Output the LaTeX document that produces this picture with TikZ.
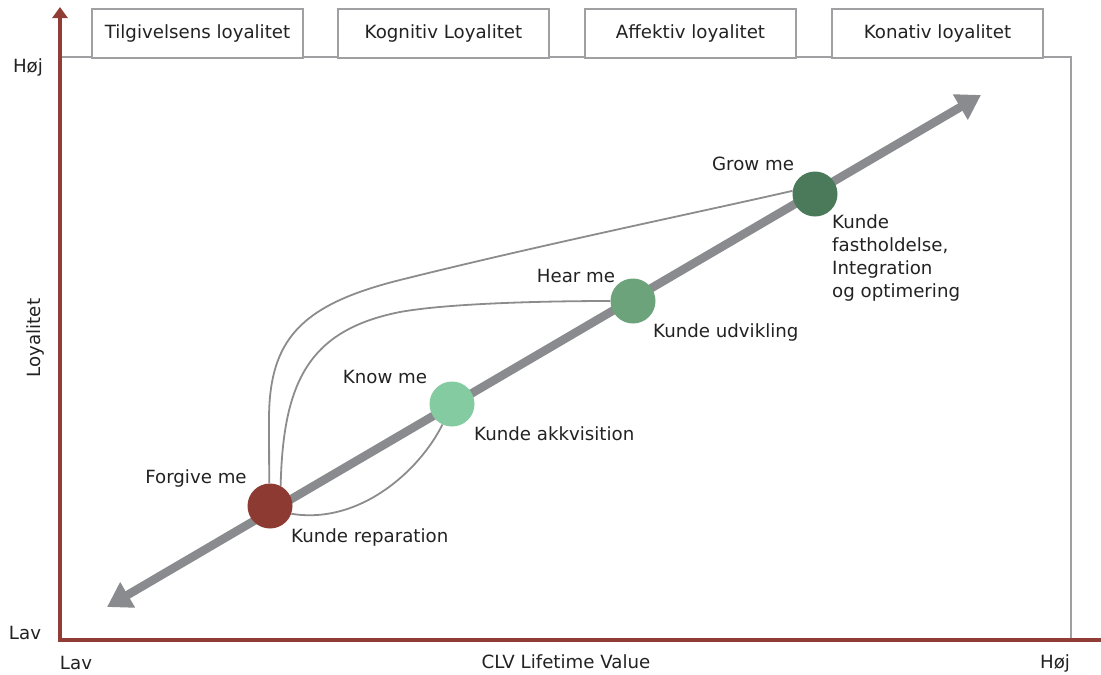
\documentclass[tikz,border=0pt]{standalone}
\usepackage{fontspec}
\setmainfont{DejaVu Sans}
\usetikzlibrary{arrows.meta}
\definecolor{axisred}{RGB}{145,60,52}
\definecolor{framegray}{RGB}{160,160,162}
\definecolor{diaggray}{RGB}{138,139,142}
\definecolor{curvegray}{RGB}{140,140,142}
\definecolor{txt}{RGB}{34,34,34}
\definecolor{cred}{RGB}{140,58,50}
\definecolor{clight}{RGB}{132,203,161}
\definecolor{cmid}{RGB}{108,163,123}
\definecolor{cdark}{RGB}{74,122,90}
\begin{document}
\begin{tikzpicture}[x=1pt,y=-1pt,
  every node/.style={font=\fontsize{18.2}{23}\selectfont,text=txt},
  headbox/.style={draw=framegray,line width=2pt,minimum width=211pt,minimum height=49pt,inner sep=0pt,anchor=north west},
  dot/.style={circle,minimum size=45pt,inner sep=0pt},
  lbl/.style={inner sep=0pt},
  link/.style={draw=curvegray,line width=1.8pt},
  axis/.style={draw=axisred,line width=4pt}]
\useasboundingbox (0,0) rectangle (1101,675);
% frame
\coordinate (fTL) at (60,57);
\coordinate (fTR) at (1071,57);
\coordinate (fBR) at (1071,640);
\draw[framegray,line width=2pt] (fTL) -- (fTR) -- (fBR);
% header boxes
\node[headbox,fill=white] (h1) at (91,8) {Tilgivelsens loyalitet};
\node[headbox,fill=white] (h2) at (337,8) {Kognitiv Loyalitet};
\node[headbox,fill=white] (h3) at (584,8) {Affektiv loyalitet};
\node[headbox,fill=white] (h4) at (831,8) {Konativ loyalitet};
% axes
\coordinate (origin) at (60,640);
\coordinate (ytop) at (60,7);
\coordinate (xend) at (1101,640);
\draw[axis,-{Triangle[length=11pt,width=15pt]}] (60,642) -- (ytop);
\draw[axis] (58,640) -- (xend);
% axis labels
\node[lbl] (yhi) at (28,67) {Høj};
\node[lbl] (ylo) at (25,633) {Lav};
\node[lbl] (xlo) at (76,663) {Lav};
\node[lbl] (xhi) at (1055,663) {Høj};
\node[lbl] (xlab) at (566,662) {CLV Lifetime Value};
\node[lbl,rotate=90] (ylab) at (35,338) {Loyalitet};
% diagonal
\coordinate (dA) at (107,607);
\coordinate (dB) at (981,95);
\draw[diaggray,line width=8.5pt,{Triangle[length=24pt,width=28pt]}-{Triangle[length=24pt,width=28pt]}] (dA) -- (dB);
% circles
\node[dot,fill=cred] (forgive) at (270,506) {};
\node[dot,fill=clight] (know) at (452,404) {};
\node[dot,fill=cmid] (hear) at (633,301) {};
\node[dot,fill=cdark] (grow) at (815,194) {};
% curves
\draw[link] (forgive.92) -- (269,420) .. controls (269,340) and (300,305) .. (400,280) .. controls (540,245) and (700,212) .. (grow.172);
\draw[link] (forgive.62) .. controls (283,380) and (310,330) .. (400,312) .. controls (450,303) and (550,301) .. (hear.180);
\draw[link] (forgive.-20) .. controls (360,525) and (420,470) .. (know.-115);
% labels
\node[lbl] (t1) at (196,478) {Forgive me};
\node[lbl,anchor=west] (t2) at (291,537) {Kunde reparation};
\node[lbl] (t3) at (385,377) {Know me};
\node[lbl,anchor=west] (t4) at (474,434) {Kunde akkvisition};
\node[lbl] (t5) at (576,276) {Hear me};
\node[lbl,anchor=west] (t6) at (653,332) {Kunde udvikling};
\node[lbl] (t7) at (753,164) {Grow me};
\node[lbl,anchor=west,align=left] (t8) at (832,258) {Kunde\\fastholdelse,\\Integration\\og optimering};
\end{tikzpicture}
\end{document}
